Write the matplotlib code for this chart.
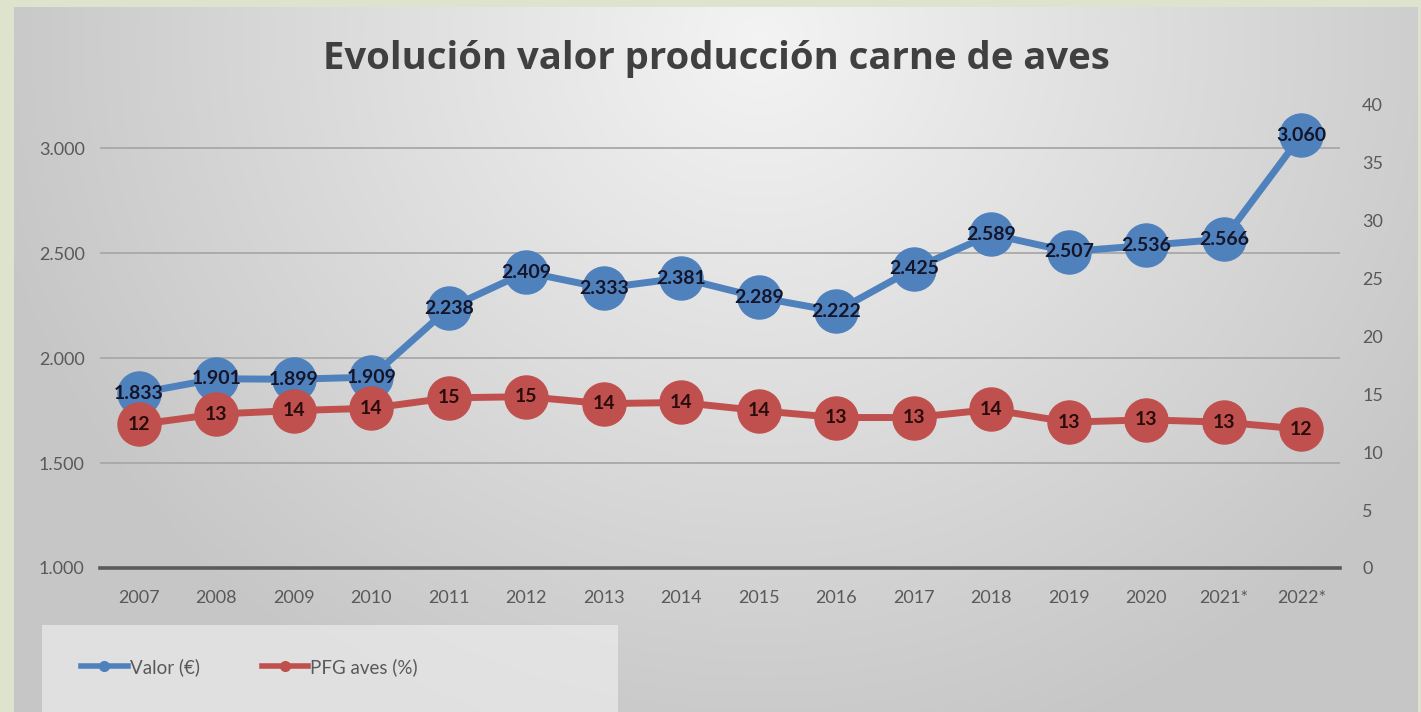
import numpy as np
import matplotlib
matplotlib.use("Agg")
import matplotlib.pyplot as plt
from matplotlib.lines import Line2D
from matplotlib.patches import Rectangle
from matplotlib.ticker import FuncFormatter

# data
years = ["2007", "2008", "2009", "2010", "2011", "2012", "2013", "2014",
         "2015", "2016", "2017", "2018", "2019", "2020", "2021*", "2022*"]
valor = [1833, 1901, 1899, 1909, 2238, 2409, 2333, 2381,
         2289, 2222, 2425, 2589, 2507, 2536, 2566, 3060]
pfg = [12.4, 13.3, 13.6, 13.8, 14.7, 14.8, 14.2, 14.3,
       13.6, 13.0, 13.0, 13.7, 12.6, 12.8, 12.6, 12.0]
left_ticks = [1000, 1500, 2000, 2500, 3000]
right_ticks = [0, 5, 10, 15, 20, 25, 30, 35, 40]

BLUE = "#4f81bd"
RED = "#c0504d"
GREY = "#595959"
plt.rcParams["font.family"] = ["Lato", "DejaVu Sans"]

W, H = 1421, 712
fig = plt.figure(figsize=(W / 100, H / 100), dpi=100)

# background: green frame + soft grey gradient panel
bg = fig.add_axes([0, 0, 1, 1], zorder=-10)
bg.axis("off")
yy, xx = np.mgrid[0:H, 0:W]
r = np.hypot((xx - 760) / 850, (yy - 40) / 800)
g = np.clip(0.955 - 0.19 * r, 0.78, 0.955)
img = np.dstack([g, g, g])
img[(xx < 14) | (yy < 7) | (xx > 1417)] = [0.871, 0.894, 0.804]
bg.imshow(img, extent=[0, 1, 0, 1], aspect="auto")
bg.set_xlim(0, 1); bg.set_ylim(0, 1)
bg.add_patch(Rectangle((42 / W, 0), 576 / W, 87 / H, transform=bg.transAxes,
                       facecolor="#ececec", alpha=0.7, edgecolor="none"))

x = np.arange(len(years))
ax = fig.add_axes([100 / W, 1 - 568 / H, 1240 / W, 463 / H])
ax.patch.set_visible(False)
ax.set_xlim(-0.5, len(years) - 0.5)
ax.set_ylim(1000, 3205)
ax.set_yticks(left_ticks)
ax.yaxis.set_major_formatter(FuncFormatter(lambda v, _: f"{v:,.0f}".replace(",", ".")))
ax.set_xticks(x)
ax.set_xticklabels(years)
ax.grid(axis="y", color="#a8a8a8", lw=1.3)
ax.set_axisbelow(True)
for s in ["top", "left", "right"]:
    ax.spines[s].set_visible(False)
ax.spines["bottom"].set_color("#5a5a5a")
ax.spines["bottom"].set_linewidth(2.6)
ax.tick_params(axis="x", length=0, pad=16, labelsize=13, labelcolor=GREY)
ax.tick_params(axis="y", length=0, pad=11, labelsize=13, labelcolor=GREY)

ax.plot(x, valor, color=BLUE, lw=5, marker="o", ms=31, mfc=BLUE, mec=BLUE,
        zorder=3)
for xi, v in zip(x, valor):
    ax.text(xi, v, f"{v:,}".replace(",", "."), ha="center", va="center",
            fontsize=14, fontweight="bold", color="#15152a", zorder=4)

ax2 = ax.twinx()
ax2.set_ylim(0, 40)
ax2.set_yticks(right_ticks)
for s in ax2.spines.values():
    s.set_visible(False)
ax2.tick_params(axis="y", length=0, pad=16, labelsize=13, labelcolor=GREY)
ax2.plot(x, pfg, color=RED, lw=5, marker="o", ms=31, mfc=RED, mec=RED,
         zorder=3)
for xi, v in zip(x, pfg):
    ax2.text(xi, v, f"{v:.0f}", ha="center", va="center",
             fontsize=14, fontweight="bold", color="#2a0c0c", zorder=4)

fig.text(0.504, 1 - 59 / H, "Evolución valor producción carne de aves",
         ha="center", va="center", fontsize=27.5, fontweight="bold",
         color="#404040", family=["Open Sans", "DejaVu Sans"])

handles = [Line2D([], [], color=BLUE, lw=4, marker="o", ms=7),
           Line2D([], [], color=RED, lw=4, marker="o", ms=7)]
fig.legend(handles, ["Valor (€)", "PFG aves (%)"], loc="center left",
           bbox_to_anchor=(64 / W, 1 - 667 / H), ncol=2, frameon=False,
           fontsize=13.5, labelcolor=GREY, handlelength=2.5, handletextpad=0.1,
           columnspacing=3.3)

fig.savefig("out.png", dpi=100)
